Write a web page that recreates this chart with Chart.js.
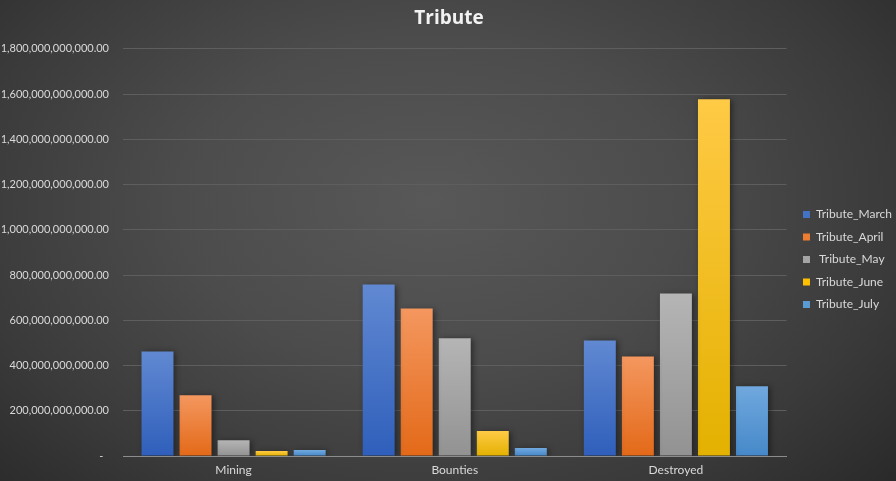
<!DOCTYPE html>
<html>
<head>
<meta charset="utf-8">
<script src="https://cdn.jsdelivr.net/npm/chart.js@4.4.1/dist/chart.umd.min.js"></script>
<style>
  html, body { margin: 0; padding: 0; }
  body {
    width: 896px; height: 481px; overflow: hidden;
    background: radial-gradient(ellipse 70% 85% at 48% 42%, #585858 0%, #4c4c4c 40%, #3a3a3a 75%, #2a2a2a 100%);
  }
  #wrap { position: relative; width: 896px; height: 481px; }
</style>
</head>
<body>
<div id="wrap"><canvas id="c" width="896" height="481"></canvas></div>
<script>
const categories = ['Mining', 'Bounties', 'Destroyed'];
const seriesNames = ['Tribute_March', 'Tribute_April', ' Tribute_May', 'Tribute_June', 'Tribute_July'];
const tributeMarch = [462e9, 758e9, 511e9];
const tributeApril = [269e9, 652e9, 440e9];
const tributeMay   = [70e9, 520e9, 718e9];
const tributeJune  = [22e9, 110e9, 1577e9];
const tributeJuly  = [26e9, 35e9, 308e9];
const yMin = 0, yMax = 1.8e12, yStep = 2e11;

const palette = [
  ['#6189d2', '#2f5fbb', '#4472c4'],
  ['#f4975f', '#e36918', '#ed7d31'],
  ['#b5b5b5', '#929292', '#a5a5a5'],
  ['#ffca45', '#e3b100', '#ffc000'],
  ['#70a8de', '#4688c9', '#5b9bd5']
];

function barGradient(i) {
  return function(context) {
    const chart = context.chart;
    const area = chart.chartArea;
    if (!area || context.type !== 'data') return palette[i][2];
    const y = chart.scales.y;
    const top = y.getPixelForValue(context.parsed.y);
    const bottom = y.getPixelForValue(0);
    const g = chart.ctx.createLinearGradient(0, top, 0, Math.max(bottom, top + 1));
    g.addColorStop(0, palette[i][0]);
    g.addColorStop(1, palette[i][1]);
    return g;
  };
}

const seriesValues = [tributeMarch, tributeApril, tributeMay, tributeJune, tributeJuly];
const datasets = seriesValues.map((vals, i) => ({
  label: seriesNames[i],
  data: vals,
  backgroundColor: barGradient(i),
  borderWidth: 0,
  categoryPercentage: 0.86,
  barPercentage: 0.84
}));

const shadowPlugin = {
  id: 'shadow',
  beforeDatasetsDraw(chart) {
    const ctx = chart.ctx;
    ctx.save();
    ctx.shadowColor = 'rgba(0,0,0,0.45)';
    ctx.shadowBlur = 6;
    ctx.shadowOffsetX = 2;
    ctx.shadowOffsetY = 1;
  },
  afterDatasetsDraw(chart) {
    chart.ctx.restore();
  }
};

const legendShift = {
  id: 'legendShift',
  afterLayout(chart) {
    const lg = chart.legend;
    if (!lg) return;
    const dx = 6, dy = 19;
    lg.left += dx; lg.right += dx;
    lg.top += dy; lg.bottom += dy;
  }
};

Chart.defaults.font.family = 'Lato, "Open Sans", sans-serif';

new Chart(document.getElementById('c'), {
  type: 'bar',
  data: {
    labels: categories,
    datasets: datasets,
  },
  options: {
    responsive: false,
    animation: false,
    layout: { padding: { left: 2, right: 0, top: 0, bottom: 0 } },
    plugins: {
      title: {
        display: true,
        text: 'Tribute',
        color: '#f2f2f2',
        font: { size: 19, weight: 'bold', family: '"Open Sans", Lato, sans-serif' },
        padding: { top: 7, bottom: 19 }
      },
      legend: {
        position: 'right',
        align: 'center',
        labels: {
          color: '#d9d9d9',
          font: { size: 12 },
          boxWidth: 7,
          boxHeight: 7,
          padding: 10.5,
          generateLabels(chart) {
            return chart.data.datasets.map((d, i) => ({
              text: d.label,
              fillStyle: palette[i][2],
              strokeStyle: palette[i][2],
              lineWidth: 0,
              hidden: false,
              datasetIndex: i,
              fontColor: '#d9d9d9'
            }));
          }
        }
      },
      tooltip: { enabled: false }
    },
    scales: {
      x: {
        grid: { display: false, drawTicks: false },
        border: { display: true, color: '#8c8c8c', width: 1 },
        ticks: { color: '#d9d9d9', font: { size: 12 }, padding: 7 },
        afterFit(scale) { scale.height = 25; }
      },
      y: {
        min: yMin,
        max: yMax,
        grid: { color: '#5e5e5e', lineWidth: 1, drawTicks: false },
        border: { display: false },
        ticks: {
          stepSize: yStep,
          color: '#d9d9d9',
          font: { size: 11 },
          padding: 14,
          callback: (v) => v === 0 ? '-  ' : Number(v).toLocaleString('en-US', { minimumFractionDigits: 2, maximumFractionDigits: 2 })
        },
        afterFit(scale) { scale.width = 121; }
      }
    }
  },
  plugins: [shadowPlugin, legendShift]
});
</script>
</body>
</html>
